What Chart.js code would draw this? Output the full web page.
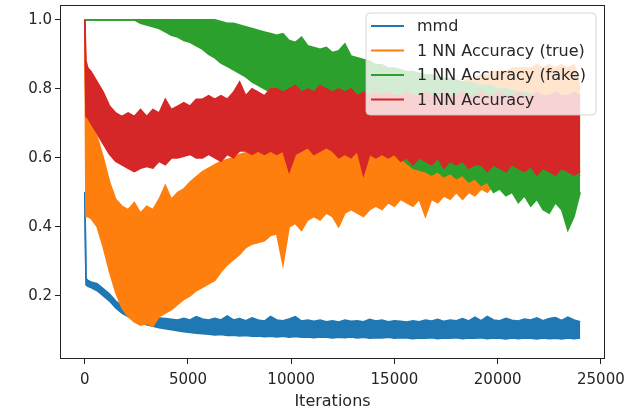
<!DOCTYPE html>
<html>
<head>
<meta charset="utf-8">
<script src="https://cdn.jsdelivr.net/npm/chart.js@4.4.1/dist/chart.umd.min.js"></script>
<style>
  html, body { margin: 0; padding: 0; background: #ffffff; }
  #wrap { width: 633px; height: 412px; position: relative; }
</style>
</head>
<body>
<div id="wrap"><canvas id="c" width="633" height="412"></canvas></div>
<script>
// ---------------- data (each series shown as its noisy band: high / low envelope) -------------
const iterations = [0,60,150,300,600,900,1200,1500,1800,2100,2400,2700,3000,3300,3600,3900,4200,4500,4800,5100,
  5400,5700,6000,6300,6600,6900,7200,7500,7800,8100,8400,8700,9000,9300,9600,9900,10200,10500,10800,11100,
  11400,11700,12000,12300,12600,12900,13200,13500,13800,14100,14400,14700,15000,15300,15600,15900,16200,16500,16800,17100,
  17400,17700,18000,18300,18600,18900,19200,19500,19800,20100,20400,20700,21000,21300,21600,21900,22200,22500,22800,23100,
  23400,23700,24000];

const seriesLabels = ['mmd', '1 NN Accuracy (true)', '1 NN Accuracy (fake)', '1 NN Accuracy'];

const mmdHigh = [0.50,0.25,0.245,0.24,0.235,0.22,0.205,0.185,0.17,0.16,0.152,0.146,0.14,0.138,0.136,0.134,0.132,0.13,0.135,0.13,
  0.14,0.133,0.13,0.135,0.13,0.142,0.13,0.134,0.128,0.136,0.13,0.127,0.14,0.13,0.128,0.133,0.14,0.127,0.13,0.126,
  0.13,0.125,0.128,0.124,0.13,0.126,0.128,0.125,0.132,0.127,0.13,0.125,0.128,0.126,0.124,0.128,0.125,0.13,0.127,0.132,
  0.126,0.13,0.128,0.134,0.127,0.138,0.128,0.14,0.13,0.128,0.135,0.129,0.127,0.133,0.13,0.136,0.128,0.134,0.137,0.129,
  0.138,0.13,0.125];
const mmdLow = [0.50,0.232,0.228,0.224,0.215,0.20,0.185,0.165,0.15,0.14,0.13,0.122,0.116,0.112,0.108,0.105,0.102,0.099,0.096,0.094,
  0.092,0.09,0.089,0.087,0.088,0.085,0.086,0.084,0.085,0.083,0.084,0.082,0.083,0.081,0.083,0.08,0.082,0.08,0.081,0.079,
  0.081,0.08,0.078,0.08,0.079,0.081,0.078,0.08,0.077,0.079,0.078,0.08,0.077,0.079,0.078,0.076,0.078,0.077,0.079,0.076,
  0.078,0.077,0.079,0.076,0.078,0.077,0.079,0.076,0.078,0.077,0.075,0.078,0.076,0.078,0.077,0.075,0.078,0.076,0.077,0.075,
  0.078,0.076,0.078];

const trueHigh = [1.0,0.715,0.71,0.70,0.66,0.60,0.53,0.48,0.46,0.45,0.47,0.44,0.46,0.45,0.48,0.52,0.48,0.50,0.51,0.53,
  0.545,0.56,0.57,0.58,0.59,0.595,0.60,0.61,0.615,0.62,0.625,0.63,0.635,0.64,0.65,0.66,0.67,0.68,0.69,0.70,
  0.70,0.71,0.72,0.72,0.73,0.73,0.74,0.74,0.75,0.75,0.76,0.76,0.77,0.77,0.78,0.78,0.79,0.79,0.80,0.80,
  0.81,0.81,0.82,0.82,0.83,0.83,0.84,0.84,0.85,0.85,0.85,0.86,0.86,0.86,0.86,0.87,0.86,0.87,0.86,0.87,
  0.86,0.87,0.80];
const trueLow = [1.0,0.43,0.43,0.425,0.40,0.34,0.27,0.21,0.165,0.14,0.125,0.115,0.12,0.112,0.14,0.15,0.16,0.175,0.19,0.20,
  0.215,0.225,0.235,0.245,0.27,0.29,0.305,0.32,0.34,0.35,0.355,0.36,0.375,0.38,0.29,0.40,0.41,0.39,0.42,0.43,
  0.42,0.44,0.43,0.40,0.44,0.45,0.44,0.43,0.45,0.46,0.45,0.47,0.46,0.48,0.47,0.46,0.48,0.43,0.48,0.47,
  0.49,0.48,0.50,0.48,0.50,0.49,0.51,0.50,0.52,0.51,0.53,0.53,0.54,0.53,0.54,0.53,0.54,0.55,0.54,0.55,
  0.54,0.55,0.55];

const fakeHigh = [1.0,1.0,1.0,1.0,1.0,1.0,1.0,1.0,1.0,1.0,1.0,1.0,1.0,1.0,1.0,1.0,1.0,1.0,1.0,1.0,
  1.0,1.0,1.0,1.0,0.995,0.99,0.99,0.985,0.98,0.975,0.97,0.965,0.96,0.955,0.96,0.94,0.935,0.95,0.925,0.92,
  0.915,0.92,0.905,0.91,0.93,0.895,0.89,0.885,0.88,0.87,0.87,0.86,0.86,0.855,0.85,0.85,0.845,0.84,0.84,0.835,
  0.83,0.83,0.825,0.82,0.82,0.815,0.81,0.81,0.805,0.80,0.80,0.795,0.79,0.79,0.785,0.78,0.78,0.775,0.77,0.77,
  0.765,0.76,0.76];
const fakeLow = [1.0,1.0,1.0,1.0,1.0,1.0,1.0,1.0,1.0,1.0,1.0,0.99,0.985,0.98,0.975,0.965,0.955,0.95,0.94,0.935,
  0.925,0.915,0.90,0.89,0.875,0.865,0.855,0.845,0.835,0.82,0.81,0.80,0.79,0.785,0.78,0.775,0.77,0.76,0.75,0.74,
  0.73,0.72,0.71,0.70,0.69,0.68,0.67,0.66,0.65,0.64,0.63,0.62,0.61,0.60,0.585,0.57,0.565,0.56,0.55,0.56,
  0.545,0.555,0.54,0.55,0.53,0.54,0.52,0.53,0.50,0.51,0.49,0.50,0.47,0.49,0.46,0.48,0.45,0.44,0.47,0.45,
  0.39,0.43,0.50];

const accHigh = [1.0,0.88,0.86,0.85,0.82,0.79,0.75,0.73,0.72,0.73,0.72,0.74,0.72,0.74,0.73,0.77,0.74,0.75,0.76,0.75,
  0.77,0.77,0.78,0.77,0.78,0.77,0.79,0.82,0.78,0.80,0.79,0.78,0.80,0.80,0.79,0.80,0.81,0.79,0.80,0.79,
  0.81,0.80,0.79,0.80,0.79,0.80,0.78,0.79,0.78,0.79,0.78,0.79,0.78,0.78,0.79,0.78,0.78,0.79,0.78,0.78,
  0.79,0.78,0.78,0.79,0.78,0.78,0.79,0.78,0.78,0.79,0.78,0.78,0.79,0.78,0.78,0.79,0.78,0.78,0.79,0.78,
  0.78,0.79,0.78];
const accLow = [1.0,0.72,0.715,0.70,0.67,0.64,0.61,0.59,0.58,0.57,0.56,0.57,0.575,0.57,0.59,0.58,0.60,0.60,0.605,0.61,
  0.60,0.60,0.61,0.60,0.59,0.61,0.60,0.62,0.62,0.61,0.62,0.61,0.62,0.61,0.62,0.56,0.61,0.62,0.63,0.61,
  0.62,0.63,0.62,0.60,0.61,0.60,0.62,0.55,0.61,0.60,0.61,0.60,0.61,0.59,0.60,0.58,0.60,0.59,0.58,0.60,
  0.57,0.59,0.58,0.59,0.57,0.58,0.58,0.56,0.58,0.57,0.56,0.58,0.57,0.56,0.575,0.55,0.57,0.56,0.55,0.57,
  0.56,0.55,0.56];

const xTicks = [0, 5000, 10000, 15000, 20000, 25000];
const yTicks = [0.2, 0.4, 0.6, 0.8, 1.0];

// ---------------- chart ----------------
const colors = ['#1f77b4', '#ff7f0e', '#2ca02c', '#d62728'];
const bands = [[mmdHigh, mmdLow], [trueHigh, trueLow], [fakeHigh, fakeLow], [accHigh, accLow]];
const FONT = "'DejaVu Sans', sans-serif";
const TEXT = '#262626';

const toPts = arr => iterations.map((x, i) => ({ x: x, y: arr[i] }));
const datasets = [];
bands.forEach((b, s) => {
  const base = {
    borderColor: colors[s], backgroundColor: colors[s], borderWidth: 1.6,
    pointRadius: 0, tension: 0, order: 4 - s, borderJoinStyle: 'miter'
  };
  datasets.push(Object.assign({}, base, { label: seriesLabels[s], data: toPts(b[0]), fill: datasets.length + 1 }));
  datasets.push(Object.assign({}, base, { label: '', data: toPts(b[1]), fill: false }));
});

const framePlugin = {
  id: 'frameAndLegend',
  afterDatasetsDraw(chart) {
    const { ctx, chartArea: a } = chart;
    ctx.save();
    ctx.strokeStyle = '#222';
    ctx.lineWidth = 1;
    ctx.strokeRect(Math.round(a.left) + 0.5, Math.round(a.top) + 0.5,
                   Math.round(a.right - a.left) - 1, Math.round(a.bottom - a.top) - 1);

    // legend box, upper right inside the axes
    const w = 230, h = 102, r = 4;
    const x0 = a.right - 9 - w, y0 = a.top + 8;
    ctx.beginPath();
    ctx.moveTo(x0 + r, y0);
    ctx.lineTo(x0 + w - r, y0); ctx.quadraticCurveTo(x0 + w, y0, x0 + w, y0 + r);
    ctx.lineTo(x0 + w, y0 + h - r); ctx.quadraticCurveTo(x0 + w, y0 + h, x0 + w - r, y0 + h);
    ctx.lineTo(x0 + r, y0 + h); ctx.quadraticCurveTo(x0, y0 + h, x0, y0 + h - r);
    ctx.lineTo(x0, y0 + r); ctx.quadraticCurveTo(x0, y0, x0 + r, y0);
    ctx.closePath();
    ctx.fillStyle = 'rgba(255,255,255,0.8)';
    ctx.fill();
    ctx.strokeStyle = 'rgba(204,204,204,0.8)';
    ctx.lineWidth = 1;
    ctx.stroke();

    ctx.font = '16px ' + FONT;
    ctx.textBaseline = 'middle';
    ctx.textAlign = 'left';
    seriesLabels.forEach((lab, i) => {
      const yy = y0 + 13 + i * 24.5;
      ctx.strokeStyle = colors[i];
      ctx.lineWidth = 2.2;
      ctx.beginPath();
      ctx.moveTo(x0 + 5, yy); ctx.lineTo(x0 + 38, yy);
      ctx.stroke();
      ctx.fillStyle = TEXT;
      ctx.fillText(lab, x0 + 51, yy + 1);
    });
    ctx.restore();
  }
};

new Chart(document.getElementById('c'), {
  type: 'line',
  data: { datasets: datasets },
  options: {
    responsive: false,
    animation: false,
    events: [],
    layout: { padding: { left: 0, top: 5, right: 28, bottom: 0 } },
    plugins: { legend: { display: false }, tooltip: { enabled: false }, filler: { propagate: false } },
    scales: {
      x: {
        type: 'linear', min: -1200, max: 25200,
        afterBuildTicks: s => { s.ticks = xTicks.map(v => ({ value: v })); },
        afterFit: s => { s.height = 53; s.paddingLeft = 0; s.paddingRight = 0; },
        grid: { drawOnChartArea: false, drawTicks: true, tickLength: 5, color: '#222', lineWidth: 1 },
        border: { display: false },
        ticks: { font: { family: FONT, size: 15 }, color: TEXT, padding: 7, maxRotation: 0, autoSkip: false,
                 callback: v => String(v) },
        title: { display: true, text: 'Iterations', font: { family: FONT, size: 16 }, color: TEXT,
                 padding: { top: 0, bottom: 1 } }
      },
      y: {
        type: 'linear', min: 0.017, max: 1.043,
        afterBuildTicks: s => { s.ticks = yTicks.map(v => ({ value: v })); },
        afterFit: s => { s.width = 60; s.paddingTop = 0; s.paddingBottom = 0; },
        grid: { drawOnChartArea: false, drawTicks: true, tickLength: 5, color: '#222', lineWidth: 1 },
        border: { display: false },
        ticks: { font: { family: FONT, size: 15 }, color: TEXT, padding: 3, autoSkip: false,
                 callback: v => v.toFixed(1) }
      }
    }
  },
  plugins: [framePlugin]
});
</script>
</body>
</html>
